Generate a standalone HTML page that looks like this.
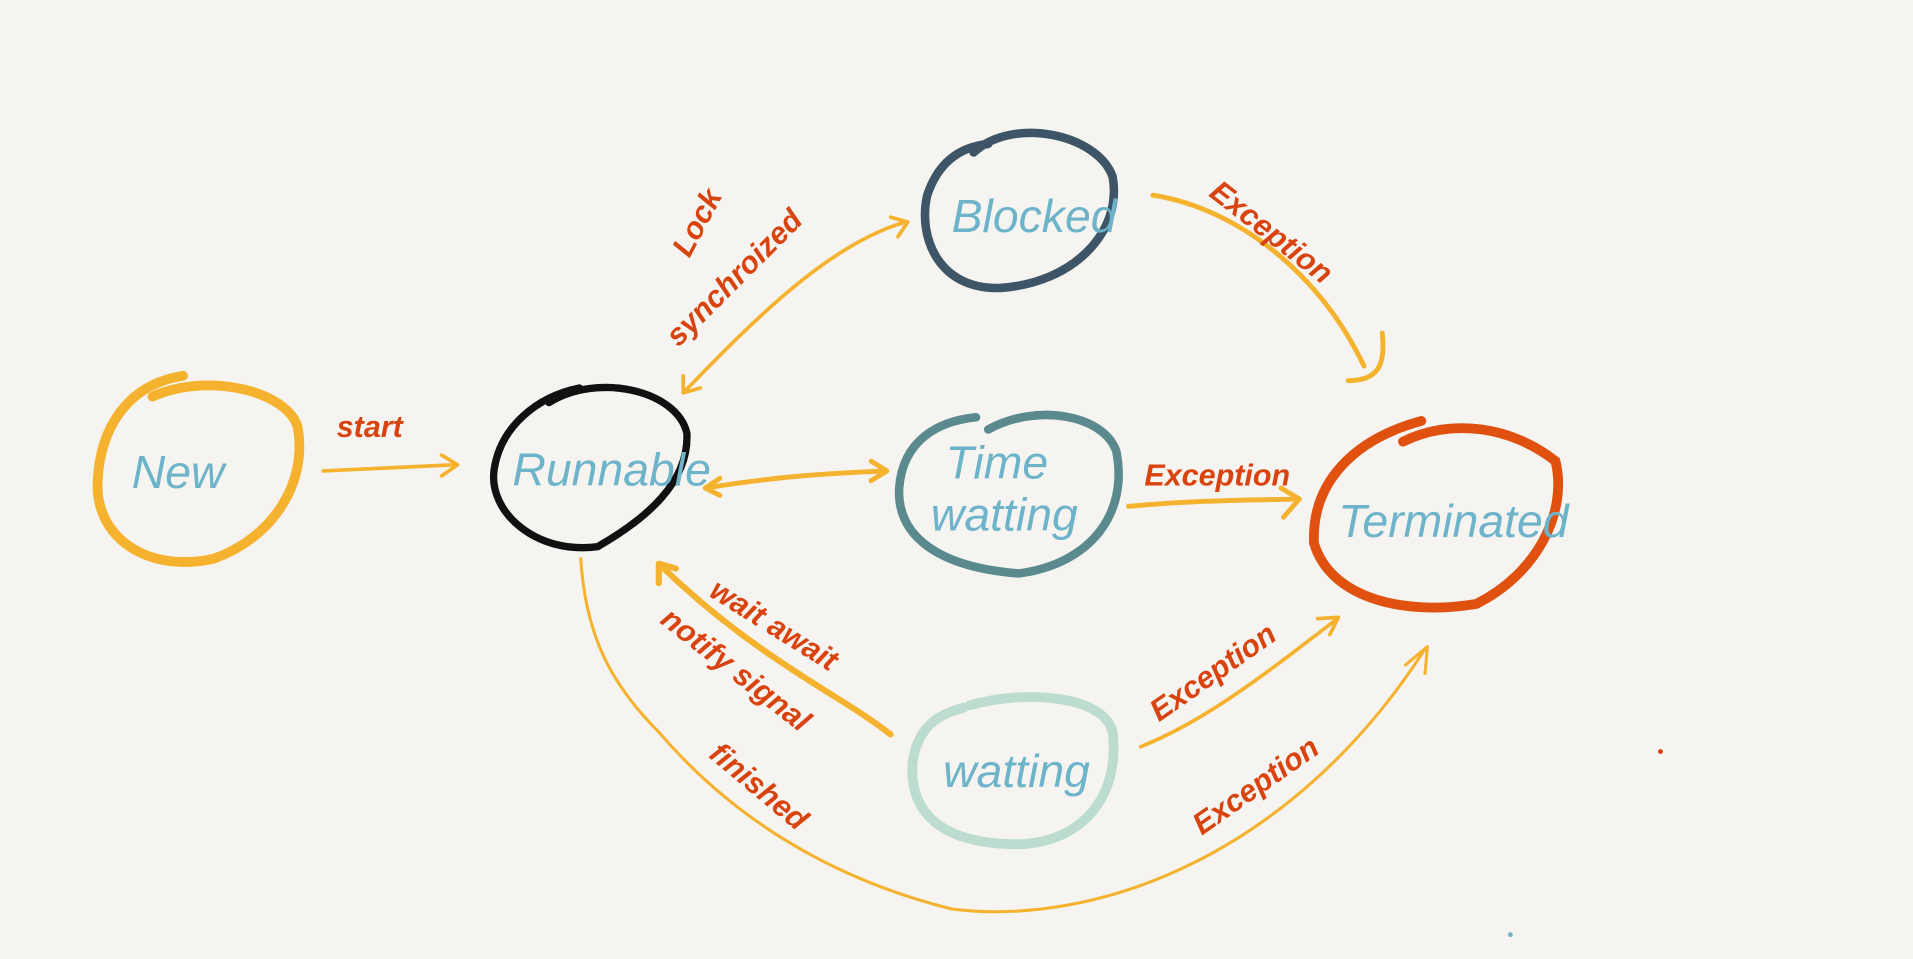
<!DOCTYPE html>
<html><head><meta charset="utf-8"><style>
html,body{margin:0;padding:0;background:#f5f4f0;}
svg{display:block;}
.n{font-family:"Liberation Sans",sans-serif;fill:#6db3c9;font-size:38px;font-style:italic;}
.l{font-family:"Liberation Sans",sans-serif;fill:#d9430f;font-size:25px;font-style:italic;font-weight:600;}
.a{fill:none;stroke:#f5b22e;stroke-linecap:round;stroke-linejoin:round;}
</style></head><body>
<svg width="1913" height="959" viewBox="0 0 1568 786" preserveAspectRatio="none" xmlns="http://www.w3.org/2000/svg">
<rect width="1568" height="786" fill="#f5f4f0"/>
<path d="M125,325 C170,305 235,320 244,350 C252,395 225,440 175,458 C120,470 78,440 80,395 C82,350 105,315 150,308" fill="none" stroke="#f5b22e" stroke-width="8" stroke-linecap="round"/>
<path d="M450,330 C490,305 555,320 563,355 C565,395 530,425 490,448 C440,455 400,420 405,385 C410,350 440,325 475,318" fill="none" stroke="#111" stroke-width="6" stroke-linecap="round"/>
<path d="M798,125 C830,95 900,110 912,145 C920,190 880,232 820,236 C770,238 752,195 760,160 C770,130 790,120 810,118" fill="none" stroke="#3d5566" stroke-width="7" stroke-linecap="round"/>
<path d="M810,352 C850,330 905,340 915,370 C925,420 895,462 835,470 C770,465 735,440 737,400 C740,360 770,345 800,342" fill="none" stroke="#5a8a8e" stroke-width="7" stroke-linecap="round"/>
<path d="M1150,362 C1190,342 1240,350 1275,378 C1285,420 1260,470 1210,495 C1150,505 1090,490 1077,445 C1075,395 1110,360 1165,345" fill="none" stroke="#e0500f" stroke-width="8" stroke-linecap="round"/>
<path d="M795,578 C840,565 905,570 912,600 C918,650 890,690 835,692 C770,692 745,665 748,625 C752,595 770,585 790,580" fill="none" stroke="#bcdccf" stroke-width="8" stroke-linecap="round"/>
<text class="n" x="108" y="400">New</text>
<text class="n" x="420" y="398" font-size="28">Runnable</text>
<text class="n" x="780" y="190" font-size="35">Blocked</text>
<text class="n" x="775" y="392" font-size="32">Time</text>
<text class="n" x="763" y="435" font-size="32">watting</text>
<text class="n" x="1097" y="440" font-size="31">Terminated</text>
<text class="n" x="773" y="645" font-size="32">watting</text>
<path class="a" stroke-width="3" d="M265,386 L372,381 M362,373 L375,381 L362,390"/>
<path class="a" stroke-width="3" d="M560,322 C620,260 680,200 742,182 M730,178 L744,182 L736,194 M560,322 L560,308 M560,322 L574,318"/>
<path class="a" stroke-width="4" d="M578,400 C640,390 680,388 725,386 M714,378 L727,386 L714,394 M578,400 L590,392 M578,400 L590,406"/>
<path class="a" stroke-width="4" d="M945,160 C1010,170 1080,220 1118,300 M1133,273 C1135,295 1133,312 1105,312"/>
<path class="a" stroke-width="4" d="M925,415 C980,410 1020,410 1063,409 M1050,400 L1065,409 L1052,424"/>
<path class="a" stroke-width="5" d="M730,602 C690,570 620,540 540,462 M540,462 L540,478 M540,462 L554,466"/>
<path class="a" stroke-width="3" d="M935,612 C990,590 1040,550 1095,508 M1080,507 L1097,506 L1090,520"/>
<path class="a" stroke-width="2.5" d="M476,458 C480,520 500,560 540,600 C600,670 680,720 780,745 C900,760 1060,700 1168,532 M1152,545 L1170,530 L1168,552"/>
<text class="l" x="276" y="358">start</text>
<text class="l" transform="translate(565,212) rotate(-62)">Lock</text>
<text class="l" transform="translate(556,285) rotate(-45)">synchroized</text>
<text class="l" transform="translate(990,160) rotate(38)">Exception</text>
<text class="l" x="938" y="398">Exception</text>
<text class="l" transform="translate(580,488) rotate(32)">wait await</text>
<text class="l" transform="translate(540,510) rotate(38)">notify signal</text>
<text class="l" transform="translate(580,620) rotate(40)">finished</text>
<text class="l" transform="translate(950,592) rotate(-35)">Exception</text>
<text class="l" transform="translate(985,685) rotate(-35)">Exception</text>
<circle cx="1361" cy="616" r="2" fill="#d9430f"/>
<circle cx="1238" cy="766" r="2" fill="#6db3c9"/>
</svg>
</body></html>
